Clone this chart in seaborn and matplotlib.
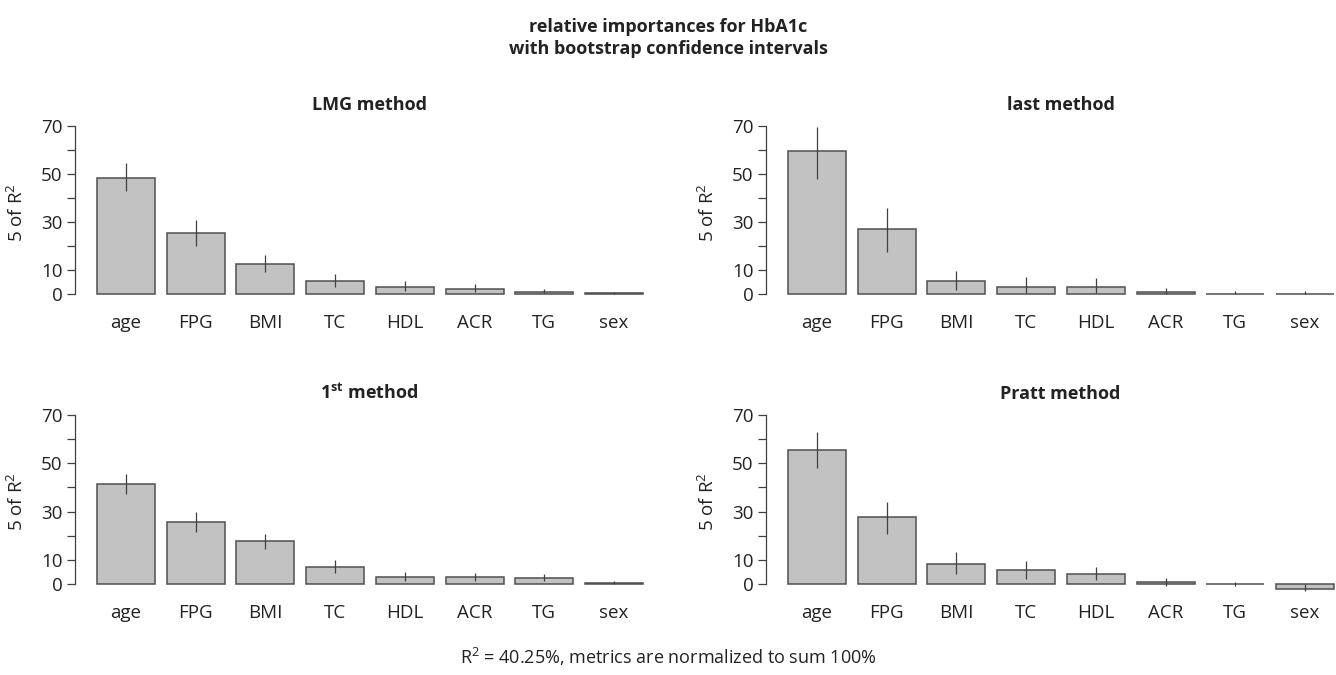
import numpy as np
import pandas as pd
import seaborn as sns
import matplotlib.pyplot as plt

sns.set_theme(style="white")
plt.rcParams['font.family'] = ['Open Sans', 'DejaVu Sans']

predictors = ['age', 'FPG', 'BMI', 'TC', 'HDL', 'ACR', 'TG', 'sex']

# relative importance (% of R^2) and bootstrap CI bounds
lmg = [48.5, 25.6, 12.7, 5.4, 3.2, 2.1, 1.1, 0.4]
lmg_lo = [42.9, 19.9, 9.3, 2.9, 1.4, 0.8, 0.4, 0.1]
lmg_hi = [54.4, 31.0, 16.5, 8.3, 5.5, 4.1, 2.1, 0.8]

last = [59.6, 27.1, 5.4, 3.2, 2.9, 0.8, 0.3, 0.3]
last_lo = [47.9, 17.7, 1.9, 0.7, 0.6, 0.0, 0.0, 0.0]
last_hi = [69.7, 36.0, 9.7, 7.1, 6.6, 2.6, 1.2, 1.2]

first = [41.5, 25.9, 17.9, 7.2, 3.2, 2.9, 2.6, 0.55]
first_lo = [37.3, 21.5, 14.5, 4.5, 1.2, 1.2, 1.2, 0.0]
first_hi = [45.7, 29.8, 20.8, 10.1, 5.2, 4.8, 4.3, 1.4]

pratt = [55.5, 27.7, 8.5, 5.8, 4.3, 1.0, 0.15, -1.8]
pratt_lo = [47.9, 20.7, 4.1, 2.3, 1.9, -0.8, -0.5, -2.8]
pratt_hi = [63.0, 34.2, 13.5, 9.5, 7.3, 2.8, 0.8, 0.0]

panels = [
    ("LMG method", lmg, lmg_lo, lmg_hi),
    ("last method", last, last_lo, last_hi),
    ("1$^{\\mathregular{st}}$ method", first, first_lo, first_hi),
    ("Pratt method", pratt, pratt_lo, pratt_hi),
]

W, H = 1336, 675
fig = plt.figure(figsize=(W / 100, H / 100), dpi=100)

# axes boxes in pixels: left, top, width, height
# (the right-hand panels run past the edge, as in the original export)
boxes = [(75, 121, 589, 183), (766, 121, 589, 183),
         (75, 410, 589, 184), (766, 410, 589, 184)]

for (title, vals, lo, hi), (l, t, w, h) in zip(panels, boxes):
    ax = fig.add_axes([l / W, 1 - (t + h) / H, w / W, h / H])
    df = pd.DataFrame({'predictor': predictors, 'value': vals})
    sns.barplot(data=df, x='predictor', y='value', ax=ax, color='#c2c2c2',
                saturation=1, width=0.833, edgecolor='#505050', linewidth=1.1,
                errorbar=None)
    pos = np.arange(len(predictors))
    ax.vlines(pos, lo, hi, color='#404040', linewidth=0.9, zorder=5)
    ax.set_xlim(-0.732, 7.718)
    ax.set_ylim(-4, 72)
    ax.set_yticks(range(0, 71, 10))
    ax.set_yticklabels(['0', '10', '', '30', '', '50', '', '70'])
    ax.tick_params(axis='y', length=6, width=0.9, color='#404040', labelsize=13.5,
                   pad=3, left=True, labelcolor='#222222')
    ax.tick_params(axis='x', length=0, labelsize=13.5, pad=7, labelcolor='#222222')
    for s in ['top', 'right', 'bottom']:
        ax.spines[s].set_visible(False)
    ax.spines['left'].set_bounds(0, 70)
    ax.spines['left'].set_color('#404040')
    ax.spines['left'].set_linewidth(0.9)
    ax.set_xlabel('')
    ax.set_ylabel('5 of R$^{\\mathregular{2}}$', fontsize=13.5, labelpad=10,
                  color='#222222')
    ax.set_title(title, fontsize=13, fontweight='bold', pad=8, color='#222222')

fig.text(0.5, 1 - 38 / H, "relative importances for HbA1c\nwith bootstrap confidence intervals",
         ha='center', va='center', fontsize=13, fontweight='bold', linespacing=1.25,
         color='#222222')
fig.text(0.5, 1 - 657 / H, "R$^{\\mathregular{2}}$ = 40.25%, metrics are normalized to sum 100%",
         ha='center', va='center', fontsize=13, color='#222222')

plt.savefig('out.png', dpi=100)
